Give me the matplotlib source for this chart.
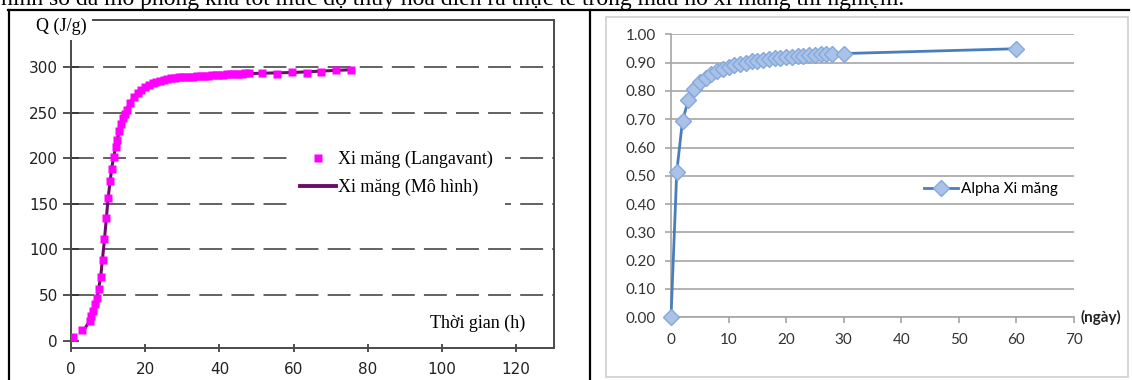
import matplotlib
matplotlib.use("Agg")
import matplotlib.pyplot as plt
from matplotlib.lines import Line2D
from matplotlib.patches import Rectangle

# left chart: heat of hydration Q (J/g) vs time (h)
t_lang = [0.5, 3.0, 5.0, 5.5, 6.0, 6.5, 7.0, 7.5, 8.0, 8.5, 9.0, 9.5, 10.0, 10.5,
          11.0, 11.5, 12.0, 12.5, 13.0, 13.5, 14.0, 14.5, 15.0, 16.0, 17.0, 18.0,
          19.0, 20.0, 21.0, 22.0, 23.0, 24.0, 25.0, 26.0, 27.0, 28.0, 29.0, 30.0,
          31.0, 32.0, 33.0, 34.0, 35.0, 36.0, 37.0, 38.0, 39.0, 40.0, 41.0, 42.0,
          43.0, 44.0, 45.0, 46.0, 47.0, 48.0,
          51.5, 55.5, 59.5, 63.5, 67.5, 71.5, 75.5]
q_lang = [4, 12, 22, 27, 33, 40, 47, 57, 70, 88, 111, 134, 156, 175,
          188, 201, 212, 220, 230, 238, 244, 249, 253, 261, 267, 272,
          275, 278, 280, 282, 283.5, 285, 286, 287, 287.5, 288, 288.5, 289,
          289, 289.5, 289.5, 290, 290, 290.5, 290.5, 291, 291, 291.5, 291.5, 292,
          292, 292, 292.5, 292.5, 293, 293,
          293, 292, 294, 293.5, 295, 297, 297]
t_model = [4, 5, 6, 7, 8, 9, 10, 11, 12, 13, 14, 15, 17, 19, 21, 24, 28, 32,
           40, 50, 60, 70, 75.5]
q_model = [15, 22, 32, 46, 70, 110, 156, 190, 212, 230, 244, 254, 268, 276,
           281, 285, 288, 289.5, 291.5, 293, 294, 296, 297]
q_grid = [50, 100, 150, 200, 250, 300]

# right chart: degree of hydration alpha vs days
day = list(range(0, 29)) + [30, 60]
alpha = [0.00, 0.514, 0.695, 0.767, 0.806, 0.830, 0.847, 0.860, 0.870, 0.878,
         0.885, 0.891, 0.896, 0.900, 0.904, 0.907, 0.910, 0.913, 0.915, 0.917,
         0.919, 0.921, 0.923, 0.925, 0.926, 0.928, 0.929, 0.930, 0.932,
         0.932, 0.949]

top_text = ("hình số đã mô phỏng khá tốt mức độ thủy hoá diễn ra thực tế "
            "trong mẫu hồ xi măng thí nghiệm.")

W, H = 1132, 380


def fx(px):
    return px / W


def fy(py):
    return 1 - py / H


serif = ["Liberation Serif", "DejaVu Serif"]

fig = plt.figure(figsize=(W / 100, H / 100), dpi=100)

# table lines around the two charts
fig.add_artist(Line2D([fx(8), fx(1129)], [fy(10), fy(10)], color="black", lw=1.6))
fig.add_artist(Line2D([fx(8.5), fx(8.5)], [fy(10), 0], color="black", lw=1.6))
fig.add_artist(Line2D([fx(589.5), fx(589.5)], [fy(10), 0], color="black", lw=1.6))

# sentence above the table, cut by the top edge
fig.text(fx(1), fy(5.5), top_text, fontsize=17, family=serif,
         ha="left", va="baseline")

# ---- left chart
ax1 = fig.add_axes([fx(71), fy(348), fx(554) - fx(71), fy(20) - fy(348)])
for q in q_grid:
    ax1.axhline(q, color="#383838", lw=1.1, linestyle=(0, (15, 6)), zorder=1)
line_model, = ax1.plot(t_model, q_model, color="#6b0d6b", lw=2.2, zorder=3)
pts_lang, = ax1.plot(t_lang, q_lang, "s", ms=6.3, color="#ff00ff", mec="none", zorder=4)
ax1.set_xlim(0, 130.2)
ax1.set_ylim(-8, 351.5)
ax1.set_xticks(range(0, 121, 20))
ax1.set_yticks(range(0, 301, 50))
for s in ax1.spines.values():
    s.set_color("#4a4a4a")
    s.set_linewidth(1.4)
ax1.tick_params(axis="y", direction="inout", length=11, width=1.2, color="#333",
                labelsize=11, pad=4)
ax1.tick_params(axis="x", direction="inout", length=6, width=1.2, color="#333",
                labelsize=11, pad=7)
for lab in ax1.get_xticklabels() + ax1.get_yticklabels():
    lab.set_family("DejaVu Sans")
    lab.set_color("#222")

leg1 = ax1.legend([pts_lang, line_model], ["Xi măng (Langavant)", "Xi măng (Mô hình)"],
                  loc="upper left", bbox_to_anchor=(fx(287), fy(138)),
                  bbox_transform=fig.transFigure, prop={"family": serif, "size": 13},
                  handlelength=2.0, handletextpad=0.1, labelspacing=0.6,
                  borderpad=0.7, borderaxespad=0, frameon=True, fancybox=False,
                  framealpha=1, edgecolor="none", facecolor="white")
for lh in leg1.get_lines():
    lh.set_linewidth(2.8)

ax1.text(0.94, 0.075, "Thời gian (h)", transform=ax1.transAxes, ha="right",
         va="center", fontsize=13, family=serif)
fig.text(fx(61), fy(26), "Q (J/g)", fontsize=13, family=serif, ha="center",
         va="center", bbox=dict(fc="white", ec="none", pad=4), zorder=10)

# ---- right chart
fig.add_artist(Rectangle((fx(606), fy(377)), fx(1128) - fx(606), fy(17) - fy(377),
                         fill=False, ec="#d0d0d0", lw=1.2))
ax2 = fig.add_axes([fx(671), fy(317.3), fx(1074) - fx(671), fy(34.3) - fy(317.3)])
ax2.plot(day, alpha, color="#4a7ebb", lw=2, marker="D", ms=7.8,
         mfc="#aac2e8", mec="#86a8dc", mew=1, label="Alpha Xi măng", zorder=3,
         clip_on=False)
ax2.set_xlim(0, 70)
ax2.set_ylim(0, 1.0)
ax2.set_xticks(range(0, 71, 10))
ax2.set_yticks([i / 10 for i in range(11)])
ax2.set_yticklabels([f"{i / 10:.2f}" for i in range(11)])
ax2.yaxis.grid(True, color="#a6a6a6", lw=1.2)
ax2.set_axisbelow(True)
for side in ("top", "right"):
    ax2.spines[side].set_visible(False)
for side in ("left", "bottom"):
    ax2.spines[side].set_color("#a6a6a6")
    ax2.spines[side].set_linewidth(1.2)
ax2.tick_params(direction="out", length=4, width=1.2, color="#a6a6a6",
                labelsize=11, labelcolor="#333", pad=7)
for lab in ax2.get_xticklabels() + ax2.get_yticklabels():
    lab.set_family("Lato")
ax2.legend(loc="center left", bbox_to_anchor=((924 - 671) / 403, (317.3 - 189) / 283),
           frameon=False, prop={"family": "Lato", "size": 11}, handlelength=2.2,
           handletextpad=0.2, borderpad=0, borderaxespad=0)
ax2.text(1.015, 0, "(ngày)", transform=ax2.transAxes, ha="left", va="center",
         fontsize=11, fontweight="bold", family="Lato", color="#222")

fig.savefig("out.png", dpi=100)
